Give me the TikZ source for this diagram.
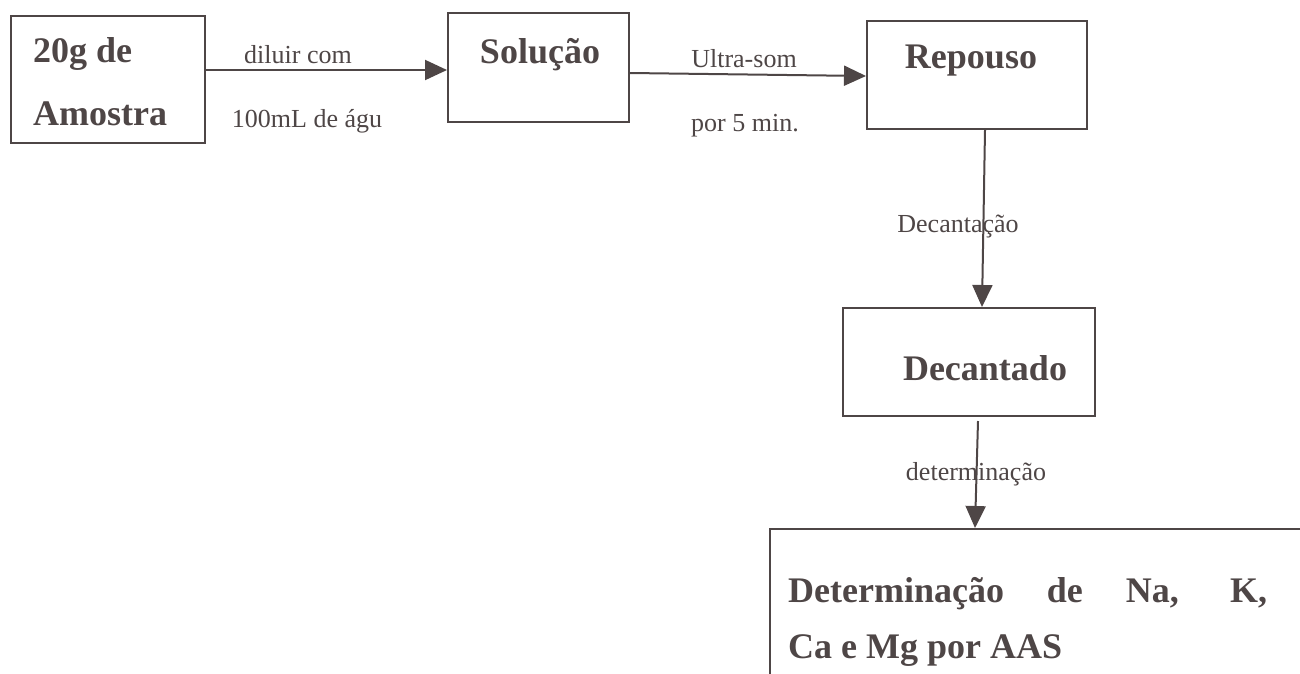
\documentclass[tikz,border=0pt]{standalone}
\usepackage{fontspec}
\setmainfont{Liberation Serif}
\usetikzlibrary{arrows.meta}
\definecolor{ink}{RGB}{78,70,70}
\tikzset{
  box/.style={draw=ink, line width=2pt, rectangle, inner sep=0pt},
  boxtext/.style={text=ink, inner sep=0pt, font=\fontsize{36}{40}\selectfont\bfseries},
  steplabel/.style={text=ink, inner sep=0pt, anchor=base, font=\fontsize{26}{30}\selectfont},
  arr/.style={draw=ink, line width=2pt, -{Triangle[length=22pt,width=20pt]}}
}
\begin{document}
\begin{tikzpicture}[x=1pt,y=-1pt]
\useasboundingbox (0,0) rectangle (1300,673);
\clip (0,0) rectangle (1300,673);

% process boxes
\node[box, minimum width=194pt, minimum height=127pt] (amostra) at (108,79.5) {};
\node[box, minimum width=181pt, minimum height=109pt] (solucao) at (538.5,67.5) {};
\node[box, minimum width=220pt, minimum height=108pt] (repouso) at (977,75) {};
\node[box, minimum width=252pt, minimum height=108pt] (decantado) at (969,362) {};
\node[box, anchor=north west, minimum width=580pt, minimum height=200pt] (resultado) at (769,528) {};

% box captions
\node[boxtext, anchor=base west] (t1) at (33,62) {20g de};
\node[boxtext, anchor=base west] (t2) at (33,125) {Amostra};
\node[boxtext, anchor=base] (t3) at (540,63) {Solução};
\node[boxtext, anchor=base] (t4) at (971,68) {Repouso};
\node[boxtext, anchor=base] (t5) at (985,380) {Decantado};
\node[boxtext, anchor=base west] (t6) at (788,602) {\makebox[479pt][s]{Determinação de Na, K,}};
\node[boxtext, anchor=base west] (t7) at (788,658) {Ca e Mg por AAS};

% connectors
\draw[arr] ([yshift=9.5pt]amostra.east) -- ([yshift=-2.5pt]solucao.west);
\draw[arr] ([yshift=-5.5pt]solucao.east) -- ([yshift=-1pt]repouso.west);
\draw[arr] ([xshift=8pt]repouso.south) -- ([xshift=13pt]decantado.north);
\draw[arr] ([xshift=9pt,yshift=-4pt]decantado.south) -- ([xshift=206pt]resultado.north west);

% connector labels
\node[steplabel] (l1) at (298,63) {diluir com};
\node[steplabel] (l2) at (307,127) {100mL de águ};
\node[steplabel] (l3) at (744,67) {Ultra-som};
\node[steplabel] (l4) at (745,131) {por 5 min.};
\node[steplabel] (l5) at (958,232) {Decantação};
\node[steplabel] (l6) at (976,480) {determinação};
\end{tikzpicture}
\end{document}
